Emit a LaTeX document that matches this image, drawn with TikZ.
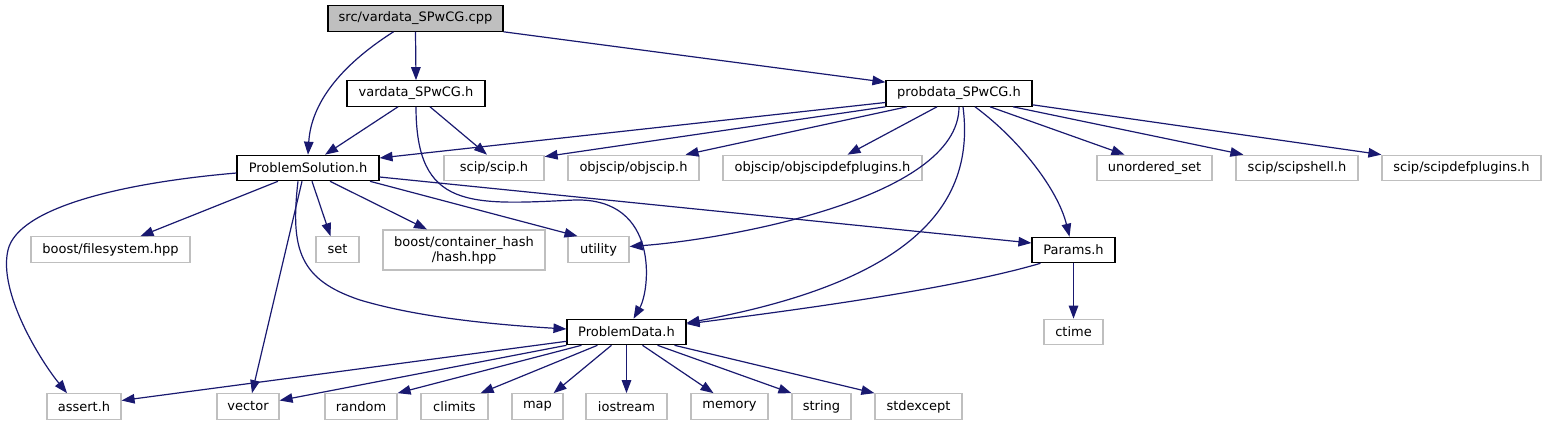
\documentclass[tikz,border=0pt]{standalone}
\usepackage{fontspec}
\setmainfont{DejaVu Sans}
\usepackage{tikz}
\usetikzlibrary{arrows.meta}
\definecolor{edgeblue}{RGB}{25,25,112}
\definecolor{grey75}{RGB}{191,191,191}

\begin{document}
\begin{tikzpicture}[x=1pt,y=-1pt,
  font=\fontsize{13}{15}\selectfont,
  file/.style={draw=black,line width=1.1pt,fill=white,inner sep=0pt,minimum height=25.5pt},
  ext/.style={draw=grey75,line width=1.2pt,fill=white,inner sep=0pt,minimum height=25.5pt},
  inc/.style={draw=edgeblue,line width=1.2pt,-{Triangle[length=13pt,width=9.5pt]}}]
\path[use as bounding box,fill=white] (0,0) rectangle (1546,425);
% headers of the project:
\node[file,fill=grey75,minimum width=175pt] (cpp) at (415.5,18.5) {src/vardata\_SPwCG.cpp};
\node[file,minimum width=138pt] (vardata) at (416,93.5) {vardata\_SPwCG.h};
\node[file,minimum width=146pt] (probdata) at (959,93.5) {probdata\_SPwCG.h};
\node[file,minimum width=142pt] (psol) at (308,168) {ProblemSolution.h};
\node[file,minimum width=83pt] (params) at (1073.5,250) {Params.h};
\node[file,minimum width=119pt] (pdata) at (626.5,332) {ProblemData.h};
% system and library headers:
\node[ext,minimum width=100pt] (scip) at (494,168) {scip/scip.h};
\node[ext,minimum width=131pt] (objscip) at (633.5,168) {objscip/objscip.h};
\node[ext,minimum width=199pt] (objdef) at (822.5,168) {objscip/objscipdefplugins.h};
\node[ext,minimum width=115pt] (unord) at (1154.5,168) {unordered\_set};
\node[ext,minimum width=122pt] (shell) at (1297,168) {scip/scipshell.h};
\node[ext,minimum width=159pt] (sdefpl) at (1461.5,168) {scip/scipdefplugins.h};
\node[ext,minimum width=159pt] (bfs) at (110.5,249.5) {boost/filesystem.hpp};
\node[ext,minimum width=43pt] (set) at (337.5,249.5) {set};
\node[ext,minimum width=162pt,minimum height=40pt,align=center] (chash) at (464,250) {boost/container\_hash\\/hash.hpp};
\node[ext,minimum width=61pt] (utility) at (598.5,249.5) {utility};
\node[ext,minimum width=59pt] (ctime) at (1073.5,332) {ctime};
\node[ext,minimum width=74pt] (assert) at (84,406.5) {assert.h};
\node[ext,minimum width=62pt] (vector) at (248,406.5) {vector};
\node[ext,minimum width=72pt] (random) at (361,406.5) {random};
\node[ext,minimum width=67pt] (climits) at (454.5,406.5) {climits};
\node[ext,minimum width=51pt] (map) at (537.5,406.5) {map};
\node[ext,minimum width=81pt] (iostream) at (626.5,406.5) {iostream};
\node[ext,minimum width=77pt] (memory) at (729.5,406.5) {memory};
\node[ext,minimum width=59pt] (string) at (821.5,406.5) {string};
\node[ext,minimum width=87pt] (stdexcept) at (918.5,406.5) {stdexcept};
% includes of src/vardata_SPwCG.cpp
\draw[inc] (cpp.south) -- (vardata.north);
\draw[inc] ([xshift=-22pt]cpp.south) .. controls +(-55,35) and +(3,-50) .. (psol.north);
\draw[inc] (cpp.south east) -- ([yshift=-2pt]probdata.north west);
% includes of vardata_SPwCG.h
\draw[inc] ([xshift=-18pt]vardata.south) -- ([xshift=17pt]psol.north);
\draw[inc] ([xshift=14pt]vardata.south) -- ([xshift=-7pt]scip.north);
\draw[inc] (vardata.south) .. controls (416,210) and (470,205) .. (575,200)
  .. controls (660,198) and (650,290) .. ([xshift=7pt]pdata.north);
% includes of probdata_SPwCG.h
\draw[inc] ([yshift=-9pt]probdata.west) -- ([yshift=10pt]psol.east);
\draw[inc] (probdata.south west) -- ([yshift=-2pt]scip.north east);
\draw[inc] ([xshift=-52pt]probdata.south) -- ([xshift=52pt]objscip.north);
\draw[inc] ([xshift=-22pt]probdata.south) -- ([xshift=25pt]objdef.north);
\draw[inc] (probdata.south) .. controls (959,200) and (720,240) .. ([yshift=3pt]utility.east);
\draw[inc] ([xshift=4pt]probdata.south) .. controls (975,200) and (920,280) .. ([yshift=9pt]pdata.east);
\draw[inc] ([xshift=16pt]probdata.south) .. controls (1020,140) and (1058,190) .. ([xshift=-4pt]params.north);
\draw[inc] ([xshift=31pt]probdata.south) -- ([xshift=-30pt]unord.north);
\draw[inc] ([xshift=54pt]probdata.south) -- ([xshift=8pt]shell.north west);
\draw[inc] ([yshift=2pt]probdata.south east) -- (sdefpl.north west);
% includes of ProblemSolution.h
\draw[inc] ([yshift=-5pt]psol.west) .. controls (120,183) and (18,208) .. (8,250)
  .. controls (-2,292) and (40,360) .. ([xshift=-17pt]assert.north);
\draw[inc] ([xshift=-30pt]psol.south) -- ([xshift=30pt]bfs.north);
\draw[inc] ([xshift=-6pt]psol.south) -- ([xshift=4pt]vector.north);
\draw[inc] ([xshift=-10pt]psol.south) .. controls (290,250) and (300,280) .. (360,300)
  .. controls (420,318) and (500,325) .. ([yshift=3pt]pdata.west);
\draw[inc] ([xshift=4pt]psol.south) -- ([xshift=-7pt]set.north);
\draw[inc] ([xshift=22pt]psol.south) -- ([xshift=-37pt]chash.north);
\draw[inc] ([xshift=62pt]psol.south) -- ([xshift=-21pt]utility.north);
\draw[inc] ([yshift=-9pt]psol.east) -- ([yshift=7pt]params.west);
% includes of Params.h
\draw[inc] ([xshift=9pt]params.south west) .. controls (950,290) and (780,312) .. ([yshift=8pt]pdata.east);
\draw[inc] (params.south) -- (ctime.north);
% includes of ProblemData.h
\draw[inc] ([yshift=4pt]pdata.south west) -- ([yshift=6pt]assert.east);
\draw[inc] (pdata.south west) -- ([yshift=6pt]vector.east);
\draw[inc] ([xshift=15pt]pdata.south west) -- (random.north east);
\draw[inc] ([xshift=31pt]pdata.south west) -- ([xshift=-8pt]climits.north east);
\draw[inc] ([xshift=45pt]pdata.south west) -- ([xshift=-10pt]map.north east);
\draw[inc] (pdata.south) -- (iostream.north);
\draw[inc] ([xshift=16pt]pdata.south) -- ([xshift=-16pt]memory.north);
\draw[inc] ([xshift=31pt]pdata.south) -- (string.north west);
\draw[inc] ([xshift=48pt]pdata.south) -- (stdexcept.north west);
\end{tikzpicture}
\end{document}
